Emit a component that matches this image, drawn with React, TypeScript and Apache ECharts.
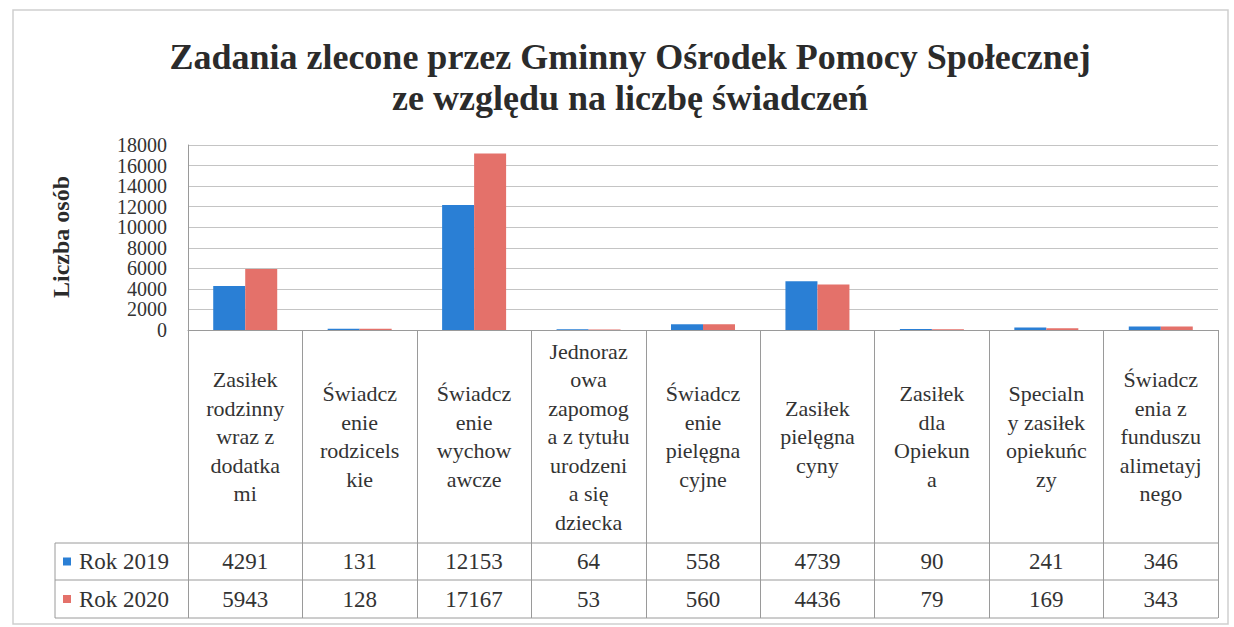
import React, { useEffect, useRef } from "react";
import * as echarts from "echarts";

const titleLines = [
  "Zadania zlecone przez Gminny Ośrodek Pomocy Społecznej",
  "ze względu na liczbę świadczeń",
];
const yAxisTitle = "Liczba osób";
const categories = [
  "Zasiłek\nrodzinny\nwraz z\ndodatka\nmi",
  "Świadcz\nenie\nrodzicels\nkie",
  "Świadcz\nenie\nwychow\nawcze",
  "Jednoraz\nowa\nzapomog\na z tytułu\nurodzeni\na się\ndziecka",
  "Świadcz\nenie\npielęgna\ncyjne",
  "Zasiłek\npielęgna\ncyny",
  "Zasiłek\ndla\nOpiekun\na",
  "Specialn\ny zasiłek\nopiekuńc\nzy",
  "Świadcz\nenia z\nfunduszu\nalimetayj\nnego",
];
const seriesNames = ["Rok 2019", "Rok 2020"];
const values2019 = [4291, 131, 12153, 64, 558, 4739, 90, 241, 346];
const values2020 = [5943, 128, 17167, 53, 560, 4436, 79, 169, 343];
const yTicks = [0, 2000, 4000, 6000, 8000, 10000, 12000, 14000, 16000, 18000];
const yMin = 0;
const yMax = 18000;
const yInterval = 2000;

const colors = ["#2a7fd5", "#e4716a"];
const FONT = "Liberation Serif";
const TEXT = "#333333";
const LINE = "#9a9a9a";

const W = 1234;
const H = 627;
const GRID_LEFT = 188;
const GRID_RIGHT = 16;
const GRID_TOP = 145;
const AXIS_Y = 330;
const ROW1_TOP = 543;
const ROW2_TOP = 580;
const TABLE_BOTTOM = 618;
const LEGEND_LEFT = 55;

export default function App() {
  const ref = useRef<HTMLDivElement>(null);

  useEffect(() => {
    if (!ref.current) return;
    const chart = echarts.init(ref.current, null, { renderer: "svg" });
    const seriesData = [values2019, values2020];
    chart.setOption({
      animation: false,
      backgroundColor: "#ffffff",
      grid: {
        left: GRID_LEFT,
        right: GRID_RIGHT,
        top: GRID_TOP,
        bottom: H - AXIS_Y,
        containLabel: false,
      },
      xAxis: {
        type: "category",
        data: categories,
        axisLine: { show: true, lineStyle: { color: LINE, width: 1 } },
        axisTick: {
          show: true,
          alignWithLabel: false,
          inside: false,
          length: TABLE_BOTTOM - AXIS_Y,
          lineStyle: { color: LINE, width: 1 },
        },
        axisLabel: { show: false },
        splitLine: { show: false },
      },
      yAxis: {
        type: "value",
        min: yMin,
        max: yMax,
        interval: yInterval,
        axisLine: { show: true, lineStyle: { color: LINE, width: 1 } },
        axisTick: { show: false },
        axisLabel: { show: false },
        splitLine: { show: true, lineStyle: { color: "#c4c4c4", width: 1 } },
      },
      series: seriesNames.map((name, i) => ({
        name,
        type: "bar",
        data: seriesData[i],
        barWidth: 32,
        barGap: "0%",
        itemStyle: { color: colors[i] },
      })),
    });

    const centers = categories.map((_, i) =>
      chart.convertToPixel({ xAxisIndex: 0 }, i) as number
    );
    const axisY = chart.convertToPixel({ yAxisIndex: 0 }, 0) as number;
    const rightX = W - GRID_RIGHT;
    const graphic: any[] = [];

    graphic.push({
      type: "rect",
      shape: { x: 13, y: 10, width: 1215, height: 614 },
      style: { fill: "none", stroke: "#cfcfcf", lineWidth: 1.5 },
      silent: true,
    });

    titleLines.forEach((t, i) => {
      graphic.push({
        type: "text",
        x: 630,
        y: 57 + i * 41,
        style: {
          text: t,
          fontFamily: FONT,
          fontWeight: "bold",
          fontSize: 36,
          fill: "#2b2b2b",
          align: "center",
          verticalAlign: "middle",
        },
      });
    });

    yTicks.forEach((v) => {
      graphic.push({
        type: "text",
        x: GRID_LEFT - 21,
        y: chart.convertToPixel({ yAxisIndex: 0 }, v) as number,
        style: {
          text: String(v),
          fontFamily: FONT,
          fontSize: 20,
          fill: TEXT,
          align: "right",
          verticalAlign: "middle",
        },
      });
    });

    graphic.push({
      type: "text",
      x: 61,
      y: 237,
      rotation: Math.PI / 2,
      style: {
        text: yAxisTitle,
        fontFamily: FONT,
        fontWeight: "bold",
        fontSize: 24,
        fill: "#2b2b2b",
        align: "center",
        verticalAlign: "middle",
      },
    });

    [ROW1_TOP, ROW2_TOP, TABLE_BOTTOM].forEach((y) => {
      graphic.push({
        type: "line",
        shape: { x1: LEGEND_LEFT, y1: y, x2: rightX, y2: y },
        style: { stroke: LINE, lineWidth: 1 },
      });
    });
    graphic.push({
      type: "line",
      shape: { x1: LEGEND_LEFT, y1: ROW1_TOP, x2: LEGEND_LEFT, y2: TABLE_BOTTOM },
      style: { stroke: LINE, lineWidth: 1 },
    });

    const headerMid = (axisY + ROW1_TOP) / 2;
    categories.forEach((c, i) => {
      graphic.push({
        type: "text",
        x: centers[i],
        y: headerMid,
        style: {
          text: c,
          fontFamily: FONT,
          fontSize: 22,
          lineHeight: 28.5,
          fill: TEXT,
          align: "center",
          verticalAlign: "middle",
        },
      });
    });

    const rowMids = [(ROW1_TOP + ROW2_TOP) / 2, (ROW2_TOP + TABLE_BOTTOM) / 2];
    seriesNames.forEach((name, r) => {
      graphic.push({
        type: "rect",
        shape: { x: 63, y: rowMids[r] - 4, width: 8, height: 8 },
        style: { fill: colors[r] },
      });
      graphic.push({
        type: "text",
        x: 79,
        y: rowMids[r],
        style: {
          text: name,
          fontFamily: FONT,
          fontSize: 23,
          fill: TEXT,
          align: "left",
          verticalAlign: "middle",
        },
      });
      seriesData[r].forEach((v, i) => {
        graphic.push({
          type: "text",
          x: centers[i],
          y: rowMids[r],
          style: {
            text: String(v),
            fontFamily: FONT,
            fontSize: 23,
            fill: TEXT,
            align: "center",
            verticalAlign: "middle",
          },
        });
      });
    });

    chart.setOption({ graphic });

    return () => chart.dispose();
  }, []);

  return (
    <div
      ref={ref}
      style={{ position: "fixed", left: 0, top: 0, width: W, height: H, background: "#fff" }}
    />
  );
}
